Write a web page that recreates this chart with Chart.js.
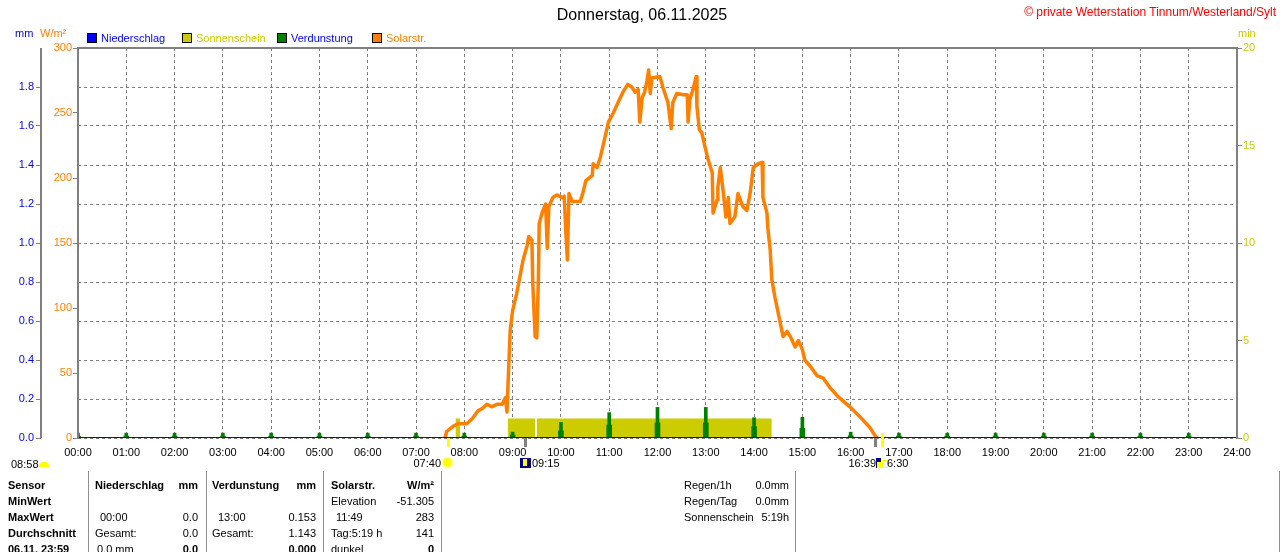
<!DOCTYPE html>
<html>
<head>
<meta charset="utf-8">
<script src="https://cdn.jsdelivr.net/npm/chart.js@4/dist/chart.umd.min.js"></script>
<style>
  body { margin: 0; background: #fff; font-family: "Liberation Sans", Arial, sans-serif; }
  #wrap { position: relative; width: 1280px; height: 552px; overflow: hidden; }
  #chart { position: absolute; left: 0; top: 0; }
  .t { position: absolute; font-size: 11px; line-height: 13px; white-space: nowrap; color: #000; }
  .b { font-weight: bold; }
  .vl { position: absolute; width: 1px; background: #909090; top: 471px; height: 81px; }
</style>
</head>
<body>
<div id="wrap">
  <canvas id="chart" width="1280" height="552"></canvas>
</div>
<script>
// Solarstrahlung W/m²
const solarZeit = ["07:36","07:38","07:46","07:52","08:03","08:10","08:17","08:23","08:28","08:34","08:41","08:47","08:51","08:53","08:54","08:57","09:00","09:05","09:09","09:13","09:18","09:20","09:24","09:25","09:28","09:30","09:32","09:33","09:37","09:41","09:43","09:45","09:50","09:55","10:01","10:04","10:06","10:08","10:10","10:14","10:24","10:27","10:31","10:39","10:40","10:45","10:49","10:55","10:59","11:05","11:11","11:17","11:23","11:28","11:32","11:36","11:38","11:41","11:44","11:47","11:49","11:51","11:53","12:03","12:07","12:13","12:17","12:19","12:24","12:32","12:37","12:38","12:40","12:44","12:48","12:49","12:52","12:55","12:59","13:03","13:08","13:09","13:14","13:15","13:18","13:21","13:25","13:28","13:30","13:36","13:40","13:46","13:51","13:55","13:59","14:05","14:10","14:11","14:14","14:16","14:17","14:20","14:22","14:26","14:30","14:36","14:41","14:45","14:51","14:55","15:00","15:03","15:10","15:18","15:26","15:34","15:44","15:59","16:12","16:24","16:30","16:33"];
const solarWert = [0,5,9,11,11,15,21,23,26,24,26,26,31,20,37,83,98,111,124,137,148,155,152,119,78,77,122,165,174,180,146,178,185,187,185,186,160,137,188,182,182,188,198,202,211,208,216,232,243,250,258,266,272,270,266,268,243,262,266,275,283,265,277,278,269,258,238,258,265,264,264,243,260,268,278,255,237,235,224,214,204,173,183,193,208,193,170,185,165,170,188,178,175,188,208,211,212,185,178,173,162,145,122,108,96,78,82,78,70,75,68,60,55,48,46,39,32,24,16,8,2,0];

// Sonnenschein min (Abschnitte)
const sonneStart = ["07:49","08:54","09:30"];
const sonneEnde = ["07:55","09:28","14:22"];
const sonneWert = [1,1,1];

// Verdunstung mm je Stunde
const stunden = ["00:00","01:00","02:00","03:00","04:00","05:00","06:00","07:00","08:00","09:00","10:00","11:00","12:00","13:00","14:00","15:00","16:00","17:00","18:00","19:00","20:00","21:00","22:00","23:00"];
const verdunstungSpitze = [0.025,0.025,0.025,0.025,0.025,0.025,0.025,0.025,0.025,0.03,0.08,0.13,0.157,0.157,0.104,0.106,0.03,0.025,0.025,0.025,0.025,0.025,0.025,0.025];
const verdunstungBasis = [0.01,0.01,0.01,0.01,0.01,0.01,0.01,0.01,0.01,0.015,0.037,0.067,0.078,0.078,0.058,0.05,0.012,0.01,0.01,0.01,0.01,0.01,0.01,0.01];

// Niederschlag mm
const niederschlagZeit = ["00:00","24:00"];
const niederschlagWert = [0,0];

// Achsen
const mmTicks = [0,0.2,0.4,0.6,0.8,1.0,1.2,1.4,1.6,1.8];
const wTicks = [0,50,100,150,200,250,300];
const minTicks = [0,5,10,15,20];

// Zeitpunkte unter der Achse
const markerZeit = ["07:40","09:15","16:30","16:39"];

function zeit(s) {
  const [h, m] = s.split(":").map(Number);
  return h + m / 60;
}

const solarPunkte = solarZeit.map((z, i) => ({ x: zeit(z), y: solarWert[i] }));
const sonnePunkte = [];
sonneStart.forEach((s, i) => {
  const a = zeit(s), e = zeit(sonneEnde[i]);
  sonnePunkte.push({ x: a, y: 0 }, { x: a, y: sonneWert[i] }, { x: e, y: sonneWert[i] }, { x: e, y: 0 }, { x: e, y: null });
});

Chart.defaults.font.family = '"Liberation Sans", Arial, sans-serif';
Chart.defaults.font.size = 11;

const grau = "#808080";

// Rahmen und Marker
const rahmen = {
  id: "rahmen",
  afterDatasetsDraw(chart) {
    const { ctx, chartArea: a, scales } = chart;
    ctx.save();
    ctx.strokeStyle = grau;
    ctx.lineWidth = 2;
    ctx.beginPath();
    ctx.moveTo(a.left, a.bottom); ctx.lineTo(a.left, a.top); ctx.lineTo(a.right, a.top); ctx.lineTo(a.right, a.bottom);
    ctx.stroke();
    // mm-Achse
    ctx.beginPath();
    ctx.moveTo(41, a.top); ctx.lineTo(41, a.bottom);
    ctx.stroke();
    markerZeit.forEach((z, i) => {
      const x = Math.round(scales.x.getPixelForValue(zeit(z)));
      ctx.fillStyle = (i === 0 || i === 3) ? "#ffff00" : grau;
      const top = i === 3 ? a.bottom - 5 : a.bottom;
      ctx.fillRect(x - 1, top, 3, a.bottom + 9 - top);
    });
    ctx.restore();
  }
};

new Chart(document.getElementById("chart"), {
  type: "line",
  data: {
    datasets: [
      {
        label: "Niederschlag",
        data: niederschlagZeit.map((z, i) => ({ x: zeit(z), y: niederschlagWert[i] })),
        borderColor: "#0000ff", borderWidth: 2, pointRadius: 0,
        yAxisID: "yMm", order: 1
      },
      {
        label: "Solarstr.",
        data: solarPunkte,
        borderColor: "#ff8000", borderWidth: 3.5, pointRadius: 0, tension: 0,
        borderJoinStyle: "round", borderCapStyle: "round",
        yAxisID: "yW", order: 2
      },
      {
        type: "bar",
        label: "Verdunstung",
        data: stunden.map((z, i) => ({ x: zeit(z), y: verdunstungSpitze[i] })),
        backgroundColor: "#008000", barThickness: 3, grouped: false,
        yAxisID: "yMm", order: 3
      },
      {
        type: "bar",
        label: "Verdunstung Basis",
        data: stunden.map((z, i) => ({ x: zeit(z), y: verdunstungBasis[i] })),
        backgroundColor: "#008000", barThickness: 5, grouped: false,
        yAxisID: "yMm", order: 4
      },
      {
        label: "Sonnenschein",
        data: sonnePunkte,
        borderWidth: 0, pointRadius: 0, fill: "origin", spanGaps: false,
        backgroundColor: "#cccc00",
        yAxisID: "yMin", order: 5
      }
    ]
  },
  options: {
    responsive: false,
    animation: false,
    devicePixelRatio: 1,
    layout: { padding: { top: 48, left: 0, right: 0, bottom: 0 } },
    plugins: { legend: { display: false }, tooltip: { enabled: false } },
    scales: {
      x: {
        type: "linear", min: 0, max: 24, offset: false,
        afterFit: s => { s.height = 114; },
        ticks: { stepSize: 1, color: "#000", padding: 8, maxRotation: 0, autoSkip: false,
          callback: v => String(v).padStart(2, "0") + ":00" },
        grid: { color: grau, drawTicks: false, offset: false },
        border: { display: false, dash: [3, 3] }
      },
      yMm: {
        position: "left", weight: 2, min: 0, max: 2,
        afterFit: s => { s.width = 41; },
        afterBuildTicks: s => { s.ticks = mmTicks.map(v => ({ value: v })); },
        ticks: { color: "#0000ff", padding: 2, callback: v => v.toFixed(1) },
        grid: { color: grau, tickColor: grau, tickLength: 5, drawOnChartArea: true },
        border: { display: false, dash: [3, 3] }
      },
      yW: {
        position: "left", weight: 1, min: 0, max: 300,
        afterFit: s => { s.width = 37; },
        afterBuildTicks: s => { s.ticks = wTicks.map(v => ({ value: v })); },
        ticks: { color: "#ff8000", padding: 1 },
        grid: { drawOnChartArea: false, tickColor: grau, tickLength: 5 },
        border: { display: false }
      },
      yMin: {
        position: "right", min: 0, max: 20,
        afterFit: s => { s.width = 43; },
        afterBuildTicks: s => { s.ticks = minTicks.map(v => ({ value: v })); },
        ticks: { color: "#cccc00", padding: 1 },
        grid: { drawOnChartArea: false, tickColor: grau, tickLength: 5 },
        border: { display: false }
      }
    }
  },
  plugins: [rahmen]
});

// Texte rund um das Diagramm
const wrap = document.getElementById("wrap");
function text(x, y, s, opt = {}) {
  const d = document.createElement("div");
  d.className = "t" + (opt.bold ? " b" : "");
  d.textContent = s;
  d.style.top = (y - 6.5) + "px";
  if (opt.right) d.style.right = (1280 - x) + "px"; else d.style.left = x + "px";
  if (opt.color) d.style.color = opt.color;
  if (opt.size) { d.style.fontSize = opt.size + "px"; d.style.lineHeight = (opt.size + 2) + "px"; d.style.top = (y - (opt.size + 2) / 2) + "px"; }
  if (opt.center) { d.style.left = x + "px"; d.style.transform = "translateX(-50%)"; }
  wrap.appendChild(d);
}
function box(x, y, w, h, farbe, extra) {
  const d = document.createElement("div");
  d.style.cssText = "position:absolute;left:" + x + "px;top:" + y + "px;width:" + w + "px;height:" + h + "px;background:" + farbe + ";" + (extra || "");
  wrap.appendChild(d);
}

text(642, 15, "Donnerstag, 06.11.2025", { center: true, size: 16 });
text(1276, 12, "© private Wetterstation Tinnum/Westerland/Sylt", { right: true, color: "#ff0000", size: 12 });
text(15, 33, "mm", { color: "#0000ff" });
text(40, 33, "W/m²", { color: "#ff8000" });
text(1238, 33, "min", { color: "#cccc00" });

const legende = [
  [87, "#0000ff", "Niederschlag", "#0000ff"],
  [182, "#cccc00", "Sonnenschein", "#cccc00"],
  [277, "#008000", "Verdunstung", "#0000ff"],
  [372, "#ff8000", "Solarstr.", "#ff8000"]
];
legende.forEach(([x, f, s, tf]) => {
  box(x, 33, 8, 8, f, "border:1px solid #000;");
  text(x + 14, 38, s, { color: tf });
});

// Ereignisse unter der Zeitachse
text(11, 464, "08:58");
box(39, 462, 10, 5, "#ffff00", "border-radius:5px 5px 1px 1px;");
text(441, 463, "07:40", { right: true });
box(443, 458, 9, 9, "#ffff00", "border-radius:50%;box-shadow:0 0 2px 1px #ffff80;");
box(520, 458, 11, 10, "#000080");
box(523, 459, 4, 7, "#ffff00");
text(532, 463, "09:15");
text(876, 463, "16:39", { right: true });
box(876, 458, 5, 10, "#000080");
box(877, 462, 4, 6, "#ffff00");
box(882, 460, 4, 6, "#fff", "border:1px solid #ffff00;");
text(887, 463, "6:30");

// Tabelle
[88, 206, 323, 441, 795, 1279].forEach(x => {
  const d = document.createElement("div");
  d.className = "vl"; d.style.left = x + "px";
  wrap.appendChild(d);
});
const zeilen = [485, 501, 517, 533, 549];
["Sensor", "MinWert", "MaxWert", "Durchschnitt", "06.11. 23:59"].forEach((s, i) => text(8, zeilen[i], s, { bold: true }));

text(95, zeilen[0], "Niederschlag", { bold: true });
text(198, zeilen[0], "mm", { bold: true, right: true });
text(100, zeilen[2], "00:00"); text(198, zeilen[2], "0.0", { right: true });
text(95, zeilen[3], "Gesamt:"); text(198, zeilen[3], "0.0", { right: true });
text(97, zeilen[4], "0.0 mm"); text(198, zeilen[4], "0.0", { right: true, bold: true });

text(212, zeilen[0], "Verdunstung", { bold: true });
text(316, zeilen[0], "mm", { bold: true, right: true });
text(218, zeilen[2], "13:00"); text(316, zeilen[2], "0.153", { right: true });
text(212, zeilen[3], "Gesamt:"); text(316, zeilen[3], "1.143", { right: true });
text(316, zeilen[4], "0.000", { right: true, bold: true });

text(331, zeilen[0], "Solarstr.", { bold: true });
text(434, zeilen[0], "W/m²", { bold: true, right: true });
text(331, zeilen[1], "Elevation"); text(434, zeilen[1], "-51.305", { right: true });
text(336, zeilen[2], "11:49"); text(434, zeilen[2], "283", { right: true });
text(331, zeilen[3], "Tag:5:19 h"); text(434, zeilen[3], "141", { right: true });
text(331, zeilen[4], "dunkel"); text(434, zeilen[4], "0", { right: true, bold: true });

text(684, zeilen[0], "Regen/1h"); text(789, zeilen[0], "0.0mm", { right: true });
text(684, zeilen[1], "Regen/Tag"); text(789, zeilen[1], "0.0mm", { right: true });
text(684, zeilen[2], "Sonnenschein"); text(789, zeilen[2], "5:19h", { right: true });
</script>
</body>
</html>
